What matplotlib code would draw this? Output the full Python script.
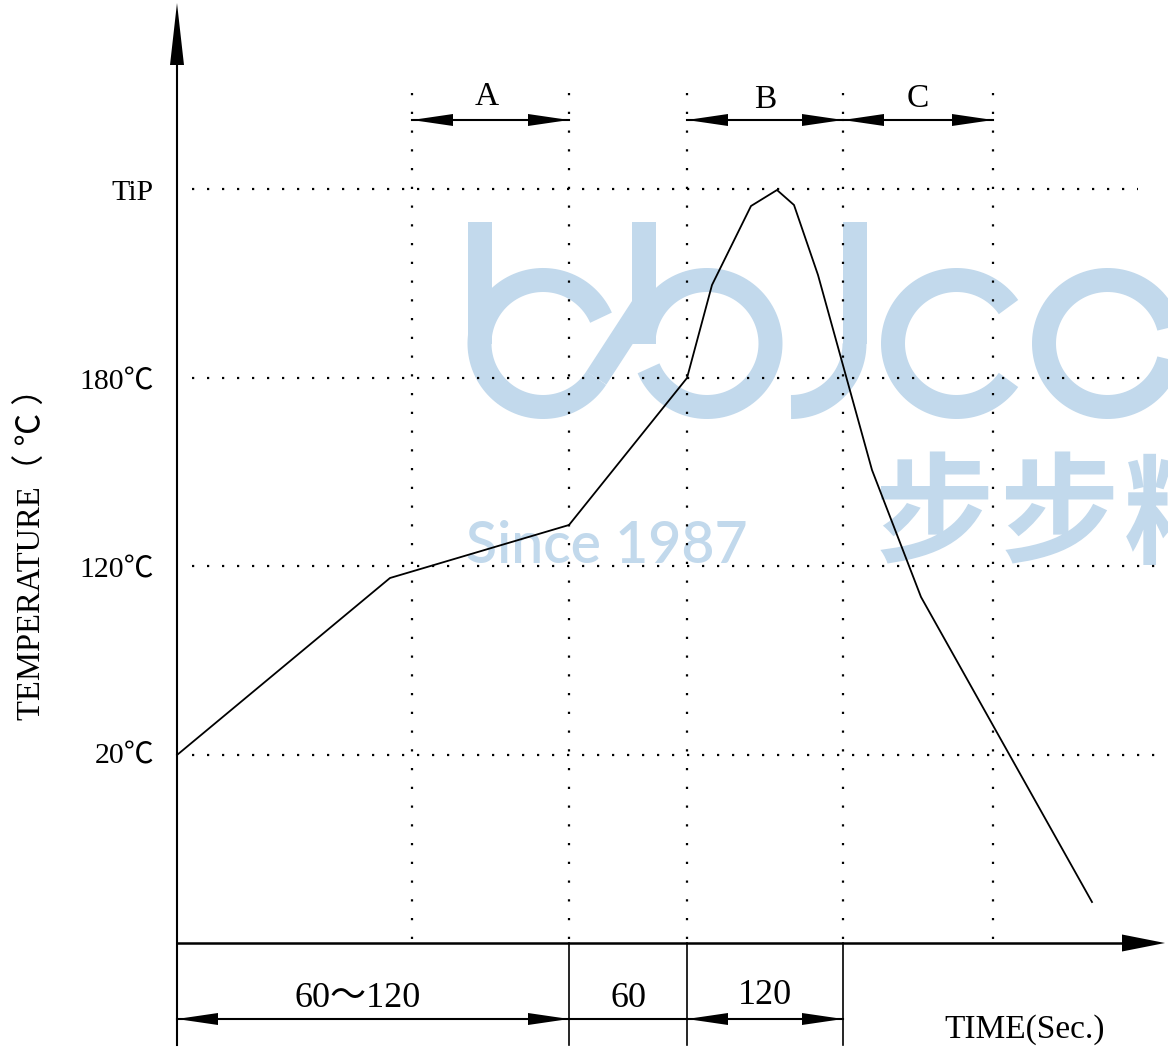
import numpy as np
import matplotlib.pyplot as plt

plt.rcParams['lines.scale_dashes'] = False

# reflow profile (pixel positions of the schematic)
curve_x = [177, 390, 569, 687, 712, 751, 777, 794, 818, 872, 921, 1092]
curve_y = [755, 578, 525, 378, 285, 206, 190, 205, 275, 470, 597, 902]

level_names = ['TiP', '180℃', '120℃', '20℃']
level_y = [189, 378, 566, 755]
level_base = [200, 389, 577, 763]
level_end = [1138, 1142, 1160, 1166]

mark_x = [412, 569, 687, 843, 993]

zone_names = ['A', 'B', 'C']
zone_from = [412, 687, 843]
zone_to = [569, 843, 993]
zone_base = [105, 108, 107]

span_labels = ['60～120', '60', '120']
span_from = [177, 569, 687]
span_to = [569, 687, 843]
span_arrows = [True, False, True]
span_base = [1007, 1007, 1004]

FONT = ['Liberation Serif', 'Noto Sans CJK SC']
WM = '#c2d9ec'

fig = plt.figure(figsize=(11.68, 10.48), dpi=100)
ax = fig.add_axes([0, 0, 1, 1])
ax.set_xlim(0, 1168)
ax.set_ylim(1048, 0)
ax.axis('off')


def head(xt, yt, ux, uy, length, half, z=4):
    bx, by = xt - ux * length, yt - uy * length
    px, py = -uy * half, ux * half
    ax.fill([xt, bx + px, bx - px], [yt, by + py, by - py], color='k', lw=0, zorder=z)


def dim_arrow(x0, x1, y, arrows=True):
    ax.plot([x0, x1], [y, y], color='k', lw=1.5, zorder=4)
    if arrows:
        head(x0, y, -1, 0, 41, 6)
        head(x1, y, 1, 0, 41, 6)


# ---- watermark (bbjco logo, Since 1987, 步步精) ----
wlw = 24 * 72 / 100


def arc(cx, cy, r, a0, a1):
    t = np.radians(np.linspace(a0, a1, 120))
    ax.plot(cx + r * np.cos(t), cy + r * np.sin(t), color=WM, lw=wlw,
            solid_capstyle='butt', zorder=0)


def stem(x, y0, y1):
    ax.plot([x, x], [y0, y1], color=WM, lw=wlw, solid_capstyle='butt', zorder=0)


r, cy = 63.5, 343.5
arc(543, cy, r, 33, 336)
stem(479.5, 222, cy)
d0 = (543 + r * np.cos(np.radians(33)), cy + r * np.sin(np.radians(33)))
ax.plot([d0[0], 646], [d0[1], d0[1] - (646 - d0[0]) / 0.545 * 0.839], color=WM, lw=wlw,
        solid_capstyle='butt', zorder=0)
arc(707, cy, r, -180, 157)
stem(643.5, 222, cy)
stem(854.5, 222, cy)
arc(791, cy, r, 0, 90)
arc(956.5, cy, r, 35, 325)
arc(1107.5, cy, r, 0, 360)
ax.text(466, 563, 'Since 1987', family='Lato', fontsize=41, color=WM,
        fontweight='semibold', ha='left', va='baseline', zorder=0)
for cx_, ch in zip([934, 1059, 1184], '步步精'):
    ax.text(cx_, 519, ch, family='Noto Sans CJK SC', fontsize=86, color=WM,
            fontweight='bold', ha='center', va='center', zorder=0)

# ---- dotted guide lines ----
for y, xe in zip(level_y, level_end):
    ax.plot([192, xe], [y, y], color='k', lw=1.6, ls=(0, (1.6, 9.2)), zorder=1)
for x in mark_x:
    ax.plot([x, x], [93, 943], color='k', lw=1.6, ls=(0, (1.6, 11.9)), zorder=1)

# ---- axes with arrow heads ----
ax.plot([177, 177], [1045, 60], color='k', lw=1.5, zorder=4)
head(177, 3, 0, -1, 62, 7)
ax.plot([177, 1125], [943, 943], color='k', lw=1.8, zorder=4)
head(1165, 943, 1, 0, 43, 8.5)

for x in span_to:
    ax.plot([x, x], [943, 1045], color='k', lw=1.2, zorder=4)

# ---- profile curve ----
ax.plot(curve_x, curve_y, color='k', lw=1.3, zorder=3)

# ---- labels ----
for name, yb in zip(level_names, level_base):
    ax.text(154, yb, name, family=FONT, fontsize=21.5, ha='right', va='baseline')
ax.text(32, 546, 'TEMPERATURE（ ℃ ）', family=FONT, fontsize=23.5, rotation=90,
        ha='center', va='center')

for name, x0, x1, yb in zip(zone_names, zone_from, zone_to, zone_base):
    dim_arrow(x0, x1, 120)
    ax.text((x0 + x1) / 2 + (487 - 490.5 if name == 'A' else 0), yb, name,
            family=FONT, fontsize=24, ha='center', va='baseline')

for lab, x0, x1, arr, yb in zip(span_labels, span_from, span_to, span_arrows, span_base):
    dim_arrow(x0, x1, 1019, arr)
    ax.text((x0 + x1) / 2 - 15 * (lab == '60～120'), yb, lab, family=FONT, fontsize=26,
            ha='center', va='baseline')

ax.text(1025, 1038, 'TIME(Sec.)', family=FONT, fontsize=24, ha='center', va='baseline')

fig.savefig('out.png', dpi=100)
